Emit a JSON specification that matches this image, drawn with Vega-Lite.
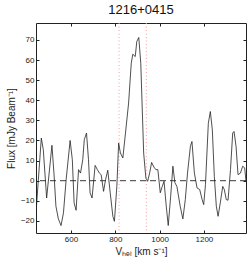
{
  "$schema": "https://vega.github.io/schema/vega-lite/v6.json",
  "autosize": "none",
  "padding": {"left": 36, "top": 23, "right": 3, "bottom": 32},
  "width": 210,
  "height": 210,
  "background": "white",
  "title": {"text": "1216+0415", "font": "Liberation Sans", "fontSize": 13, "fontWeight": 400, "color": "#111", "offset": 6},
  "config": {
    "view": {"stroke": "#222", "strokeWidth": 1},
    "axis": {"grid": false, "domain": false, "tickColor": "#222", "tickSize": -3, "labelFont": "Liberation Sans", "labelFontSize": 8, "labelColor": "#222", "titleFont": "Liberation Sans", "titleFontSize": 10, "titleFontWeight": "normal", "titleColor": "#222", "labelPadding": 5}
  },
  "datasets": {
    "spec": [
      {"v": 442, "f": -16}, {"v": 466, "f": 21.2}, {"v": 475, "f": 15.4}, {"v": 490, "f": -8.6},
      {"v": 514, "f": 17.6}, {"v": 523, "f": 3.8}, {"v": 532, "f": -12.7}, {"v": 543, "f": -19},
      {"v": 555, "f": -22.3}, {"v": 566, "f": -16}, {"v": 578, "f": 0.5}, {"v": 596, "f": 20},
      {"v": 606, "f": 10.4}, {"v": 614, "f": -11}, {"v": 623, "f": -14.7}, {"v": 634, "f": 5.5},
      {"v": 643, "f": 3.8}, {"v": 653, "f": 10.4}, {"v": 660, "f": 20.4}, {"v": 670, "f": 23.7},
      {"v": 679, "f": 10.4}, {"v": 686, "f": -6}, {"v": 695, "f": -8.6}, {"v": 709, "f": 7.6},
      {"v": 719, "f": 5.5}, {"v": 728, "f": 3.8}, {"v": 736, "f": 3}, {"v": 747, "f": -5.3},
      {"v": 756, "f": 0.5}, {"v": 766, "f": 5.2}, {"v": 777, "f": -6}, {"v": 789, "f": -17.7},
      {"v": 796, "f": -20.2}, {"v": 807, "f": -2.8}, {"v": 815, "f": 18.7}, {"v": 823, "f": 13.8},
      {"v": 834, "f": 11.3}, {"v": 846, "f": 23.7}, {"v": 860, "f": 38.6}, {"v": 872, "f": 58.4},
      {"v": 879, "f": 62.9}, {"v": 890, "f": 61.7}, {"v": 897, "f": 69.2}, {"v": 906, "f": 71.2},
      {"v": 915, "f": 58.4}, {"v": 928, "f": 13.8}, {"v": 938, "f": 1.3}, {"v": 946, "f": -0.3},
      {"v": 955, "f": 3.8}, {"v": 964, "f": 9.1}, {"v": 974, "f": 6.8}, {"v": 983, "f": 5.5},
      {"v": 992, "f": 5.5}, {"v": 1003, "f": -6}, {"v": 1012, "f": -2.8}, {"v": 1020, "f": -0.3},
      {"v": 1030, "f": -12.7}, {"v": 1039, "f": -22.3}, {"v": 1050, "f": -7.7}, {"v": 1060, "f": 7.2},
      {"v": 1069, "f": -1}, {"v": 1078, "f": -2.8}, {"v": 1093, "f": -12.7}, {"v": 1105, "f": -19},
      {"v": 1116, "f": -9.4}, {"v": 1126, "f": 3.8}, {"v": 1139, "f": 17.1}, {"v": 1146, "f": 19.5},
      {"v": 1157, "f": 3.8}, {"v": 1169, "f": -3.6}, {"v": 1181, "f": -4.4}, {"v": 1192, "f": -9.4},
      {"v": 1199, "f": -11.9}, {"v": 1207, "f": -2}, {"v": 1220, "f": 28.6}, {"v": 1229, "f": 34.4},
      {"v": 1238, "f": 25.3}, {"v": 1247, "f": 2.2}, {"v": 1256, "f": -12.7}, {"v": 1264, "f": -17.7},
      {"v": 1274, "f": -11}, {"v": 1285, "f": -2.8}, {"v": 1292, "f": -4.4}, {"v": 1301, "f": -9.4},
      {"v": 1309, "f": -9.7}, {"v": 1320, "f": 5.5}, {"v": 1330, "f": 23.7}, {"v": 1336, "f": 24.5},
      {"v": 1345, "f": 17.1}, {"v": 1354, "f": 3}, {"v": 1365, "f": 3.8}, {"v": 1375, "f": 7.2},
      {"v": 1384, "f": 6.4}, {"v": 1390, "f": -0.3}
    ],
    "vlines": [{"v": 817}, {"v": 940}],
    "zero": [{"f": 0}]
  },
  "layer": [
    {
      "data": {"name": "vlines"},
      "mark": {"type": "rule", "color": "#ff9a9a", "strokeWidth": 1, "strokeDash": [1, 2.5]},
      "encoding": {
        "x": {"field": "v", "type": "quantitative", "scale": {"domain": [442, 1390], "nice": false, "zero": false},
          "axis": {"orient": "top", "values": [600, 800, 1000, 1200], "labels": false, "title": null}}
      }
    },
    {
      "data": {"name": "zero"},
      "mark": {"type": "rule", "color": "#222", "strokeWidth": 0.9, "strokeDash": [6, 4]},
      "encoding": {
        "y": {"field": "f", "type": "quantitative", "scale": {"domain": [-26, 78.4], "nice": false, "zero": false},
          "axis": {"orient": "right", "values": [-20, -10, 0, 10, 20, 30, 40, 50, 60, 70], "labels": false, "title": null}}
      }
    },
    {
      "data": {"name": "spec"},
      "mark": {"type": "line", "color": "#222", "strokeWidth": 0.8, "clip": true},
      "encoding": {
        "x": {"field": "v", "type": "quantitative", "scale": {"domain": [442, 1390], "nice": false, "zero": false},
          "axis": {"orient": "bottom", "values": [600, 800, 1000, 1200], "format": "d", "title": "Vₕₑₗ [km s⁻¹]", "titlePadding": 3}},
        "y": {"field": "f", "type": "quantitative", "scale": {"domain": [-26, 78.4], "nice": false, "zero": false},
          "axis": {"orient": "left", "values": [-20, -10, 0, 10, 20, 30, 40, 50, 60, 70], "title": "Flux [mJy Beam⁻¹]", "titlePadding": 4}}
      }
    }
  ],
  "resolve": {"axis": {"x": "independent", "y": "independent"}}
}
